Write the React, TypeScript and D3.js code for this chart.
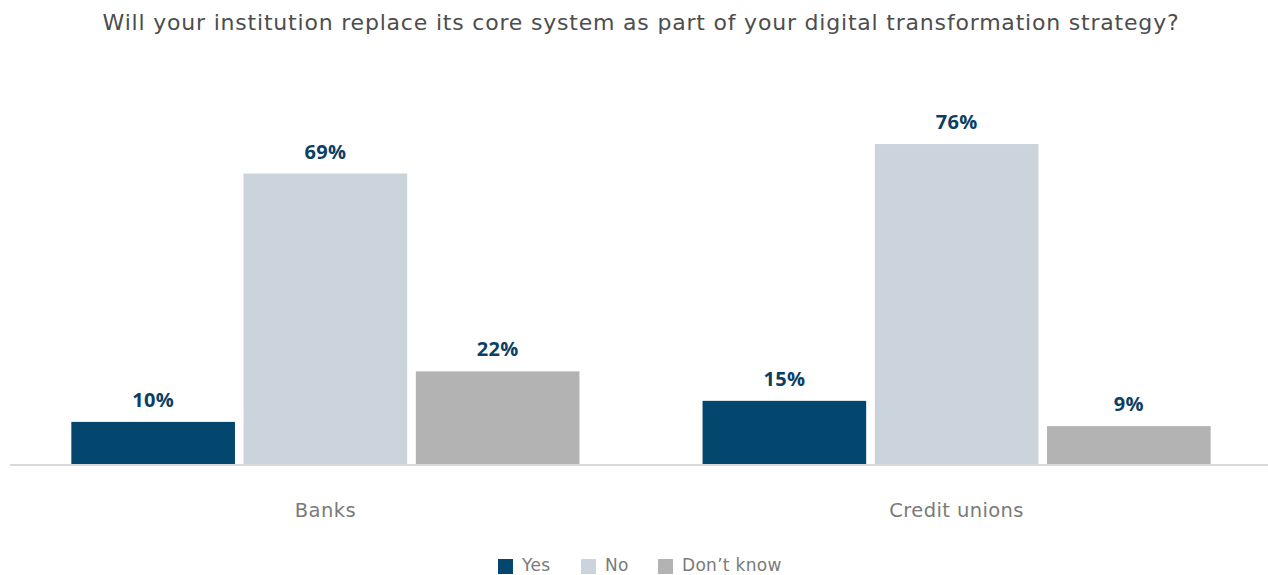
import * as d3 from 'd3';

const categories = ['Banks', 'Credit unions'];
const seriesNames = ['Yes', 'No', 'Don\u2019t know'];
const yesValues = [10, 15];
const noValues = [69, 76];
const dontKnowValues = [22, 9];
const title = 'Will your institution replace its core system as part of your digital transformation strategy?';

const colors = ['#03466e', '#cbd3dd', '#b3b3b4'];
const font = '"DejaVu Sans", sans-serif';
const boldFont = '"Open Sans", sans-serif';

export default function App() {
    const width = 1268;
    const height = 575;
    const baseline = 464;

    const values = [yesValues, noValues, dontKnowValues];

    // Group and bar scales
    const x0 = d3.scaleBand<string>()
        .domain(categories)
        .range([12, 1270])
        .paddingInner(0.195)
        .paddingOuter(0.094);

    const x1 = d3.scaleBand<string>()
        .domain(seriesNames)
        .range([0, x0.bandwidth()])
        .paddingInner(0.05);

    const y = d3.scaleLinear().domain([0, 100]).range([baseline, 43]);

    // Legend layout
    const legendX = [498, 581, 658];

    return (
        <svg width={width} height={height} style={{ display: 'block', position: 'absolute', left: 0, top: 0 }}>
            <rect width={width} height={height} fill="#fff" />
            <text x={641} y={30} textAnchor="middle" fontFamily={font} fontSize={22} letterSpacing={0.8} fill="#4d4d4d">
                {title}
            </text>

            {categories.map((cat, ci) => (
                <g key={cat} transform={`translate(${x0(cat)},0)`}>
                    {seriesNames.map((s, si) => {
                        const v = values[si][ci];
                        const bx = x1(s) ?? 0;
                        return (
                            <g key={s}>
                                <rect
                                    x={bx}
                                    y={y(v)}
                                    width={x1.bandwidth()}
                                    height={baseline - y(v)}
                                    fill={colors[si]}
                                />
                                <text
                                    x={bx + x1.bandwidth() / 2}
                                    y={y(v) - 15}
                                    textAnchor="middle"
                                    fontFamily={boldFont}
                                    fontWeight={700}
                                    fontSize={20}
                                    letterSpacing={0.3}
                                    fill="#0b3f63"
                                >
                                    {v}%
                                </text>
                            </g>
                        );
                    })}
                    <text
                        x={x0.bandwidth() / 2}
                        y={517}
                        textAnchor="middle"
                        fontFamily={font}
                        fontSize={19.5}
                        letterSpacing={0.4}
                        fill="#7a7a7a"
                    >
                        {cat}
                    </text>
                </g>
            ))}

            <line x1={10} x2={1268} y1={465} y2={465} stroke="#d9d9d9" strokeWidth={2} />

            {seriesNames.map((s, i) => (
                <g key={s} transform={`translate(${legendX[i]},0)`}>
                    <rect x={0} y={559} width={15} height={15} fill={colors[i]} />
                    <text x={24} y={571} fontFamily={font} fontSize={17} letterSpacing={0.3} fill="#7a7a7a">
                        {s}
                    </text>
                </g>
            ))}
        </svg>
    );
}
